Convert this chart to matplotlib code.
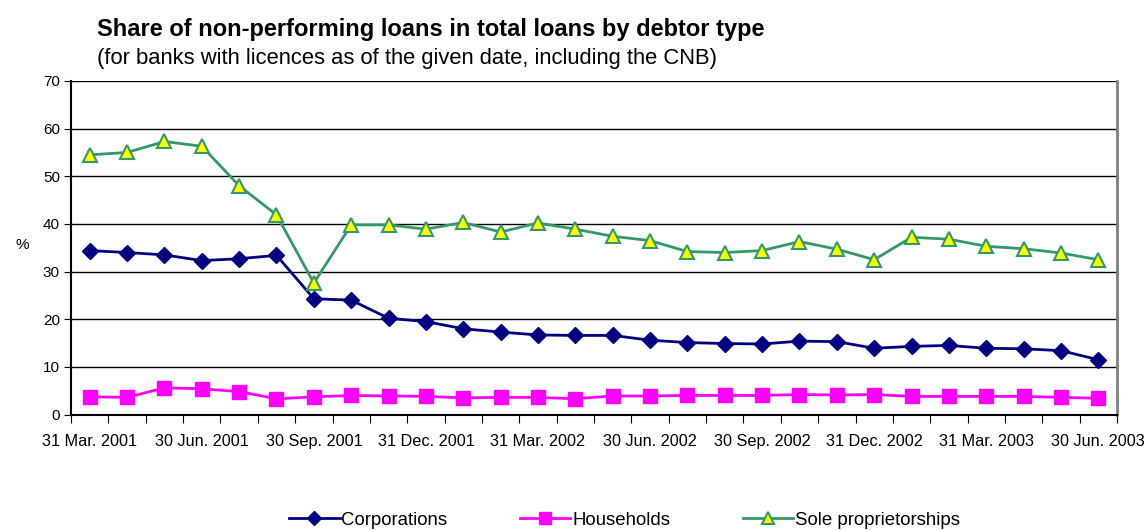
import matplotlib.pyplot as plt
import numpy as np

plt.rcParams['font.family'] = ['Liberation Sans', 'DejaVu Sans']

dates = ['31 Mar. 2001', '30 Jun. 2001', '30 Sep. 2001', '31 Dec. 2001',
         '31 Mar. 2002', '30 Jun. 2002', '30 Sep. 2002', '31 Dec. 2002',
         '31 Mar. 2003', '30 Jun. 2003']

# monthly observations, Mar 2001 - Jun 2003
corporations = [34.4, 34.0, 33.5, 32.3, 32.7, 33.4, 24.3, 24.0, 20.2, 19.5,
                18.0, 17.3, 16.7, 16.6, 16.6, 15.6, 15.1, 14.9, 14.8, 15.4,
                15.3, 13.9, 14.3, 14.5, 13.9, 13.8, 13.4, 11.5]
households = [3.7, 3.6, 5.6, 5.4, 4.8, 3.3, 3.7, 4.0, 3.9, 3.8,
              3.5, 3.6, 3.6, 3.3, 3.9, 3.9, 4.0, 4.0, 4.0, 4.2,
              4.1, 4.2, 3.8, 3.8, 3.8, 3.8, 3.6, 3.4]
sole_props = [54.5, 55.0, 57.3, 56.3, 48.0, 41.9, 27.6, 39.8, 39.8, 38.9,
              40.3, 38.3, 40.2, 38.9, 37.4, 36.5, 34.2, 34.0, 34.4, 36.3,
              34.7, 32.5, 37.2, 36.8, 35.3, 34.8, 33.9, 32.5]

x = np.arange(len(corporations))

fig = plt.figure(figsize=(11.44, 5.30), dpi=100)
ax = fig.add_axes([0.0621, 0.2179, 0.9143, 0.6293])

ax.plot(x, corporations, color='#000080', lw=2, marker='D', ms=8,
        mfc='#000080', mec='#000080', label='Corporations', zorder=3)
ax.plot(x, households, color='#FF00FF', lw=2, marker='s', ms=10,
        mfc='#FF00FF', mec='#FF00FF', label='Households', zorder=3)
ax.plot(x, sole_props, color='#339966', lw=2, marker='^', ms=10,
        mfc='#FFFF00', mec='#339966', mew=1.5, label='Sole proprietorships', zorder=3)

ax.set_xlim(-0.5, len(x) - 0.5)
ax.set_ylim(0, 70)
ax.set_yticks(np.arange(0, 71, 10))
ax.yaxis.grid(True, color='black', lw=1)
ax.set_axisbelow(True)

# tick marks on category boundaries, labels every quarter
ax.set_xticks(np.arange(-0.5, len(x), 1.0))
ax.set_xticklabels([])
ax.set_xticks(np.arange(0, len(x), 3), minor=True)
ax.set_xticklabels(dates, minor=True)
ax.tick_params(axis='x', which='major', length=6, direction='out', color='black')
ax.tick_params(axis='x', which='minor', length=0, pad=14, labelsize=11.7)
ax.tick_params(axis='y', length=5, labelsize=11, pad=3)

for side in ['left', 'bottom']:
    ax.spines[side].set_color('black')
    ax.spines[side].set_linewidth(1.5)
ax.spines['right'].set_color('#808080')
ax.spines['right'].set_linewidth(2)
ax.spines['top'].set_visible(False)

fig.text(0.0135, 0.537, '%', fontsize=11, va='center', ha='left')

fig.text(0.085, 0.945, 'Share of non-performing loans in total loans by debtor type',
         fontsize=17, fontweight='bold', va='center')
fig.text(0.085, 0.890, '(for banks with licences as of the given date, including the CNB)',
         fontsize=15.8, va='center')

fig.legend(loc='center', bbox_to_anchor=(0.546, 0.018), ncol=3, frameon=False,
           fontsize=13.4, handlelength=2.7, columnspacing=3.9, handletextpad=0.1,
           markerscale=0.85)

fig.savefig('out.png', dpi=100)
